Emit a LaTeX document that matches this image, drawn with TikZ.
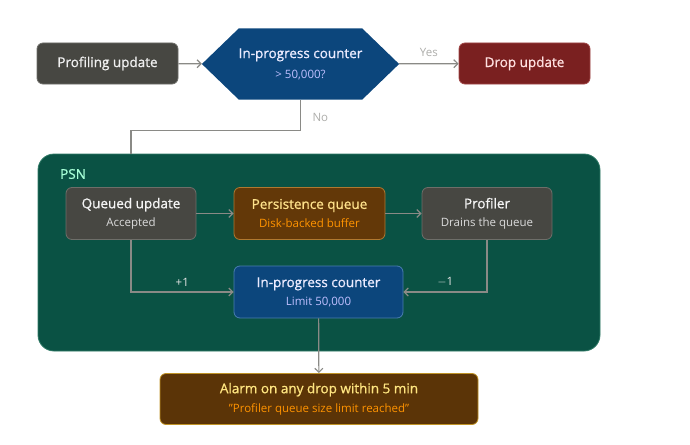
\documentclass[tikz,border=0pt]{standalone}
\usepackage{fontspec}
\setmainfont{Open Sans}
\newfontfamily\headfont[FakeBold=0.9]{Open Sans}
\usetikzlibrary{positioning,shapes.symbols,arrows.meta}

\definecolor{stonefill}{HTML}{474742}
\definecolor{stoneline}{HTML}{6E6E69}
\definecolor{navyfill}{HTML}{0C467C}
\definecolor{navyline}{HTML}{4A7DB0}
\definecolor{wine}{HTML}{7A2020}
\definecolor{wineline}{HTML}{A04545}
\definecolor{pine}{HTML}{0A5244}
\definecolor{pineline}{HTML}{2F7A66}
\definecolor{amberfill}{HTML}{633808}
\definecolor{amberline}{HTML}{B07830}
\definecolor{wire}{HTML}{8A8A86}

\newcommand{\hdtext}[2]{{\color{#1}\headfont\fontsize{13.5}{15}\selectfont #2}}
\newcommand{\subtext}[2]{{\color{#1}\fontsize{11.5}{13}\selectfont #2}}

\begin{document}
\begin{tikzpicture}[x=1pt,y=-1pt,
  box/.style={rectangle,rounded corners=6pt,inner sep=0pt,align=center,line width=0.8pt},
  stonebox/.style={box,fill=stonefill,draw=stoneline},
  flow/.style={draw=wire,line width=1.2pt,-{Straight Barb[length=4pt,width=8pt]}},
  wirelabel/.style={font=\fontsize{11.5}{13}\selectfont}]
\useasboundingbox (0,0) rectangle (690,444);

\node[stonebox,minimum width=141pt,minimum height=41pt] (source) at (107.5,63.5)
  {\hdtext{white!88!gray}{Profiling update}};
\node[signal,signal to=west and east,signal pointer angle=88,fill=navyfill,
  minimum width=187pt,minimum height=71pt,inner sep=0pt,align=center] (check) at (300.5,64)
  {\hdtext{blue!8!white}{In-progress counter}\\[8pt]\subtext{blue!25!white}{> 50,000?}};
\node[box,fill=wine,draw=wineline,minimum width=131pt,minimum height=41pt] (drop) at (524.5,63.5)
  {\hdtext{red!12!white}{Drop update}};

\node[rectangle,rounded corners=16pt,fill=pine,draw=pineline,line width=0.8pt,
  minimum width=562pt,minimum height=197pt] (psn) at (319,252.5) {};
\node[anchor=west,inner sep=0pt] (psnlabel) at (60,174)
  {\hdtext{green!45!cyan!35!white}{PSN}};

\node[stonebox,minimum width=130pt,minimum height=52pt] (queued) at (131,213.5)
  {\hdtext{white!92!gray}{Queued update}\\[6pt]\subtext{white!72!gray}{Accepted}};
\node[box,fill=amberfill,draw=amberline,minimum width=151pt,minimum height=52pt] (pqueue) at (309.5,213.5)
  {\hdtext{orange!50!yellow!45!white}{Persistence queue}\\[6pt]\subtext{orange!85!yellow}{Disk-backed buffer}};
\node[stonebox,minimum width=130pt,minimum height=52pt] (profiler) at (487,213.5)
  {\hdtext{white!92!gray}{Profiler}\\[6pt]\subtext{white!72!gray}{Drains the queue}};
\node[box,fill=navyfill,draw=navyline,minimum width=169pt,minimum height=52pt] (counter) at (318.5,292)
  {\hdtext{blue!8!white}{In-progress counter}\\[6pt]\subtext{blue!25!white}{Limit 50,000}};

\node[box,fill=amberfill!92!black,draw=amberline!80!yellow,minimum width=318pt,minimum height=51pt] (alarm) at (319,399)
  {\hdtext{orange!40!yellow!50!white}{Alarm on any drop within 5 min}\\[6pt]\subtext{orange!85!yellow}{"Profiler queue size limit reached"}};

\draw[flow] (source) -- (check);
\draw[flow] (check) -- node[above=3pt,wirelabel,text=wire!70!white] {Yes} (drop);
\draw[draw=wire,line width=1.2pt] (check.south) -- ++(0,31) coordinate (bend)
  -| (queued.north |- psn.north);
\node[wirelabel,text=wire!70!white,anchor=west] (nolabel) at (309,117) {No};
\draw[flow] (queued) -- (pqueue);
\draw[flow] (pqueue) -- (profiler);
\draw[flow] (queued.south) |- node[pos=0.75,above=2pt,wirelabel,text=white!80!gray] {+1} (counter.west);
\draw[flow] (profiler.south) |- node[pos=0.75,above=2pt,wirelabel,text=white!80!gray] {$-$1} (counter.east);
\draw[flow] (counter) -- (alarm);
\end{tikzpicture}
\end{document}
